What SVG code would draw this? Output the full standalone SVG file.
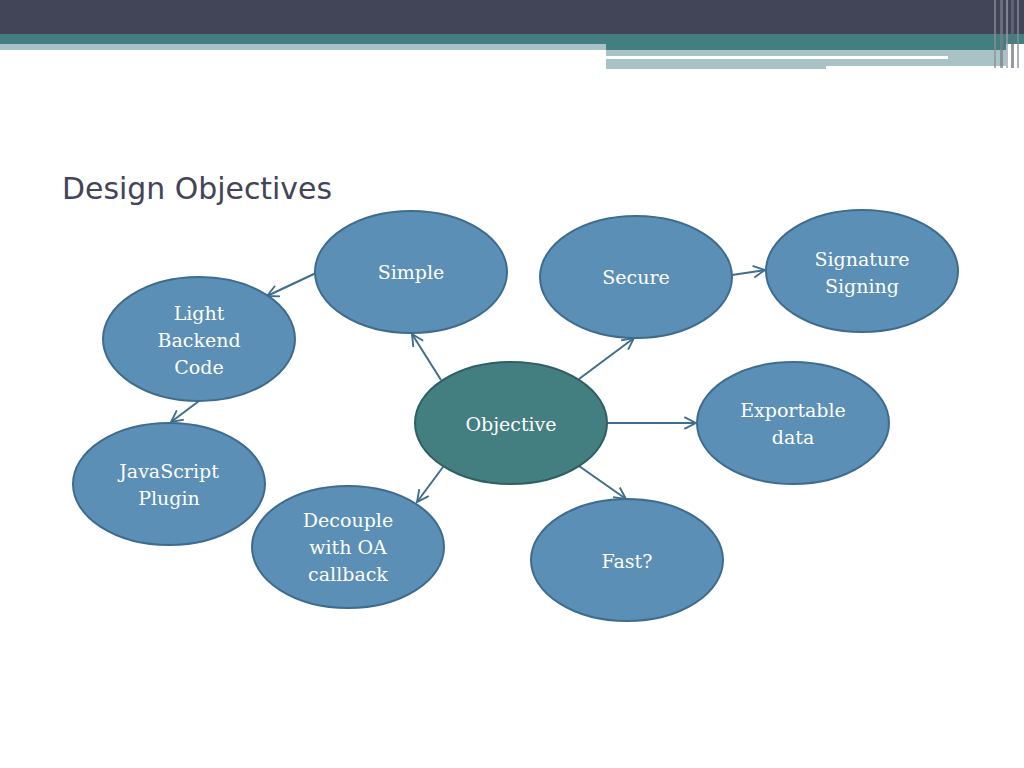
<svg xmlns="http://www.w3.org/2000/svg" width="1024" height="768" viewBox="0 0 1024 768">
<defs>
<style>
.node{fill:#5b8fb6;stroke:#3d6c8e;stroke-width:2}
.center{fill:#437e81;stroke:#2e5f62;stroke-width:2}
.lbl{font-family:"DejaVu Serif",serif;font-size:19px;fill:#ffffff;text-anchor:middle}
.conn{stroke:#3f6d8c;stroke-width:2;fill:none;marker-end:url(#arr)}
</style>
<marker id="arr" viewBox="0 0 12 12" refX="11" refY="6" markerWidth="7" markerHeight="7" markerUnits="strokeWidth" orient="auto">
<path d="M1,1 L11,6 L1,11" fill="none" stroke="#3f6d8c" stroke-width="1.6"/>
</marker>
</defs>
<rect width="1024" height="768" fill="#ffffff"/>
<g id="header">
<rect x="0" y="0" width="1024" height="34" fill="#424457"/>
<rect x="0" y="34" width="1024" height="10" fill="#437e81"/>
<rect x="0" y="44" width="606" height="6" fill="#a9c2c5"/>
<rect x="606" y="44" width="400" height="6" fill="#437e81"/>
<rect x="606" y="50" width="400" height="6" fill="#a9c2c5"/>
<rect x="606" y="56" width="342" height="3" fill="#ffffff"/>
<rect x="948" y="56" width="58" height="10" fill="#a9c2c5"/>
<rect x="606" y="59" width="220" height="10" fill="#a9c2c5"/>
<rect x="826" y="59" width="122" height="7" fill="#a9c2c5"/>
<rect x="994" y="0" width="2" height="68" fill="#8a8e99" opacity="0.7"/>
<rect x="1000" y="0" width="3" height="68" fill="#7a7e8c" opacity="0.7"/>
<rect x="1006" y="0" width="2" height="68" fill="#9a9ea8" opacity="0.7"/>
<rect x="1011" y="0" width="3" height="68" fill="#6a6e7c" opacity="0.7"/>
<rect x="1017" y="0" width="2" height="68" fill="#8a8e99" opacity="0.7"/>
</g>
<text id="title" x="62" y="199" font-family="'DejaVu Sans',sans-serif" font-size="30" fill="#424457" textLength="270" lengthAdjust="spacingAndGlyphs">Design Objectives</text>
<g id="connectors">
<line class="conn" x1="441" y1="380" x2="412" y2="334"/>
<line class="conn" x1="579" y1="379" x2="634" y2="338"/>
<line class="conn" x1="607" y1="423" x2="696" y2="423"/>
<line class="conn" x1="579" y1="466" x2="626" y2="499"/>
<line class="conn" x1="443" y1="467" x2="417" y2="502"/>
<line class="conn" x1="316" y1="273" x2="267" y2="296"/>
<line class="conn" x1="199" y1="401" x2="171" y2="422"/>
<line class="conn" x1="732" y1="275" x2="765" y2="270"/>
</g>
<g id="simple"><ellipse class="node" cx="411" cy="272" rx="96" ry="61"/><text class="lbl" x="411" y="279">Simple</text></g>
<g id="secure"><ellipse class="node" cx="636" cy="277" rx="96" ry="61"/><text class="lbl" x="636" y="284">Secure</text></g>
<g id="signature"><ellipse class="node" cx="862" cy="271" rx="96" ry="61"/><text class="lbl" x="862" y="266">Signature</text><text class="lbl" x="862" y="293">Signing</text></g>
<g id="light"><ellipse class="node" cx="199" cy="339" rx="96" ry="62"/><text class="lbl" x="199" y="320">Light</text><text class="lbl" x="199" y="347">Backend</text><text class="lbl" x="199" y="374">Code</text></g>
<g id="objective"><ellipse class="center" cx="511" cy="423" rx="96" ry="61"/><text class="lbl" x="511" y="431">Objective</text></g>
<g id="exportable"><ellipse class="node" cx="793" cy="423" rx="96" ry="61"/><text class="lbl" x="793" y="417">Exportable</text><text class="lbl" x="793" y="444">data</text></g>
<g id="javascript"><ellipse class="node" cx="169" cy="484" rx="96" ry="61"/><text class="lbl" x="169" y="478">JavaScript</text><text class="lbl" x="169" y="505">Plugin</text></g>
<g id="decouple"><ellipse class="node" cx="348" cy="547" rx="96" ry="61"/><text class="lbl" x="348" y="527">Decouple</text><text class="lbl" x="348" y="554">with OA</text><text class="lbl" x="348" y="581">callback</text></g>
<g id="fast"><ellipse class="node" cx="627" cy="560" rx="96" ry="61"/><text class="lbl" x="627" y="568">Fast?</text></g>
</svg>
